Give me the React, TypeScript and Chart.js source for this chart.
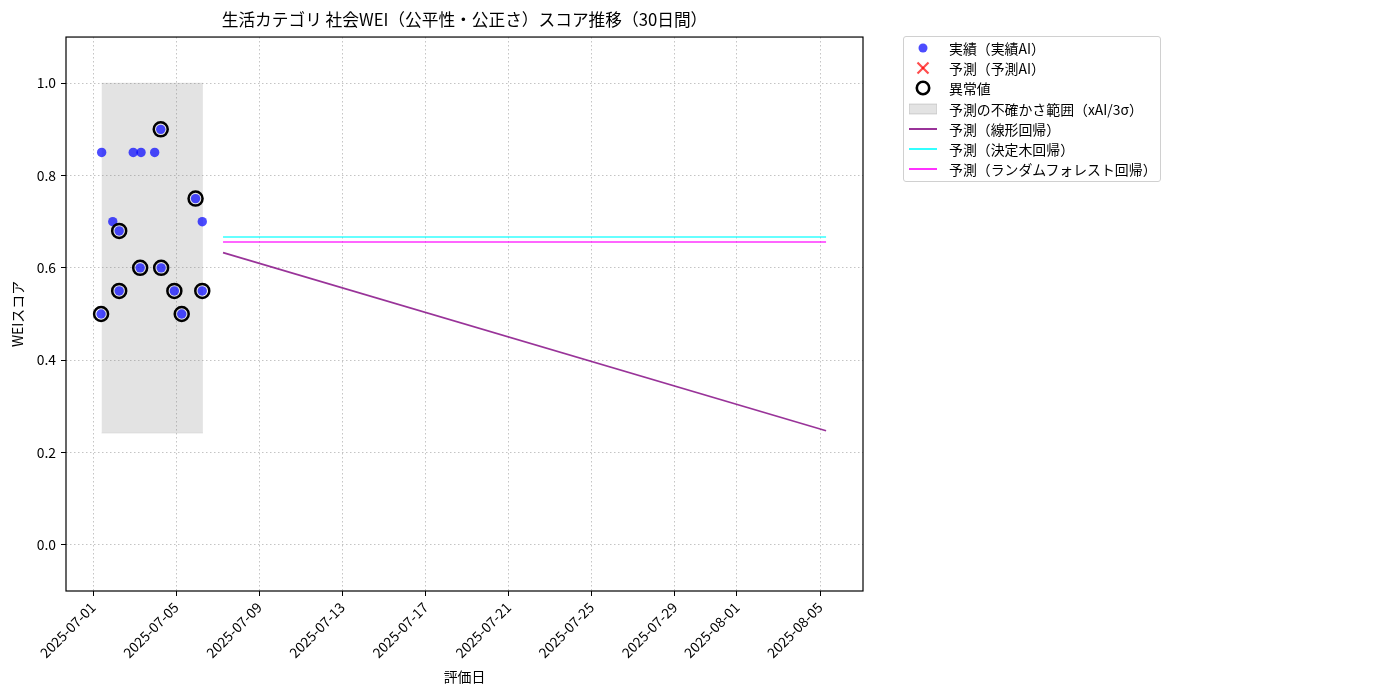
import React, { useEffect, useRef } from "react";
import { Chart, registerables, Plugin } from "chart.js";

Chart.register(...registerables);

const FONT = "'Noto Sans CJK JP', 'DejaVu Sans', sans-serif";

// 実績（実績AI）
const actualDates = [
  "2025-07-01T09:20", "2025-07-01T10:00", "2025-07-01T22:50", "2025-07-02T06:15",
  "2025-07-02T06:15", "2025-07-02T22:30", "2025-07-03T06:30", "2025-07-03T07:30",
  "2025-07-03T23:15", "2025-07-04T06:15", "2025-07-04T06:45", "2025-07-04T22:00",
  "2025-07-05T06:30", "2025-07-05T22:30", "2025-07-06T06:15", "2025-07-06T06:15",
];
const actualScores = [0.5, 0.85, 0.7, 0.68, 0.55, 0.85, 0.6, 0.85, 0.85, 0.9, 0.6, 0.55, 0.5, 0.75, 0.7, 0.55];
// 異常値 (index into actual)
const outlierIdx = [0, 3, 4, 6, 9, 10, 11, 12, 13, 15];

// 予測の不確かさ範囲
const bandDates = ["2025-07-01T09:50", "2025-07-06T07:00"];
const bandUpper = [1.0, 1.0];
const bandLower = [0.242, 0.242];

// 予測（30日間）
const forecastDates = ["2025-07-07T06:15", "2025-08-05T07:00"];
const linearPred = [0.633, 0.247];
const treePred = [0.667, 0.667];
const forestPred = [0.656, 0.656];

const tickDates = [
  "2025-07-01", "2025-07-05", "2025-07-09", "2025-07-13", "2025-07-17",
  "2025-07-21", "2025-07-25", "2025-07-29", "2025-08-01", "2025-08-05",
];
const yTicks = [0, 0.2, 0.4, 0.6, 0.8, 1.0];

const BASE = Date.parse("2025-07-01T00:00:00Z");
const toDay = (s: string) => (Date.parse((s.length === 10 ? s + "T00:00" : s) + ":00Z") - BASE) / 86400000;
const dayLabel = (d: number) => new Date(BASE + Math.round(d) * 86400000).toISOString().slice(0, 10);

const pts = (dates: string[], vals: number[]) => dates.map((d, i) => ({ x: toDay(d), y: vals[i] }));

const framePlugin: Plugin = {
  id: "frame",
  afterDatasetsDraw(chart) {
    const { ctx, chartArea } = chart;
    ctx.save();
    ctx.strokeStyle = "#000";
    ctx.lineWidth = 1.2;
    ctx.strokeRect(chartArea.left, chartArea.top, chartArea.right - chartArea.left, chartArea.bottom - chartArea.top);
    ctx.restore();
  },
};

const legendItems: { label: string; kind: string; color: string }[] = [
  { label: "実績（実績AI）", kind: "dot", color: "rgba(0,0,255,0.7)" },
  { label: "予測（予測AI）", kind: "x", color: "rgba(255,0,0,0.7)" },
  { label: "異常値", kind: "ring", color: "#000" },
  { label: "予測の不確かさ範囲（xAI/3σ）", kind: "rect", color: "rgba(128,128,128,0.22)" },
  { label: "予測（線形回帰）", kind: "line", color: "rgba(128,0,128,0.8)" },
  { label: "予測（決定木回帰）", kind: "line", color: "rgba(0,255,255,0.8)" },
  { label: "予測（ランダムフォレスト回帰）", kind: "line", color: "rgba(255,0,255,0.8)" },
];

const Marker = ({ kind, color }: { kind: string; color: string }) => (
  <svg width={28} height={16} style={{ display: "block" }}>
    {kind === "dot" && <circle cx={14} cy={8} r={4.5} fill={color} />}
    {kind === "x" && (
      <g stroke={color} strokeWidth={2.2}>
        <line x1={8.5} y1={2.5} x2={19.5} y2={13.5} />
        <line x1={19.5} y1={2.5} x2={8.5} y2={13.5} />
      </g>
    )}
    {kind === "ring" && <circle cx={14} cy={8} r={6.2} fill="none" stroke={color} strokeWidth={2.6} />}
    {kind === "rect" && <rect x={0} y={3} width={28} height={10} fill={color} stroke="rgba(128,128,128,0.3)" />}
    {kind === "line" && <line x1={0} y1={8} x2={28} y2={8} stroke={color} strokeWidth={2} />}
  </svg>
);

const gridOpts = {
  color: "#c4c4c4",
  tickBorderDash: [],
  tickColor: "#000",
  tickLength: 5,
};

const App = () => {
  const canvasRef = useRef<HTMLCanvasElement>(null);

  useEffect(() => {
    if (!canvasRef.current) return;
    const actual = pts(actualDates, actualScores);
    const outliers = outlierIdx.map((i) => actual[i]);
    const chart = new Chart(canvasRef.current, {
      type: "scatter",
      data: {
        datasets: [
          {
            label: "band-upper",
            type: "line",
            data: pts(bandDates, bandUpper),
            borderColor: "rgba(128,128,128,0.15)",
            borderWidth: 1,
            pointRadius: 0,
            fill: false,
            order: 10,
          },
          {
            label: "予測の不確かさ範囲（xAI/3σ）",
            type: "line",
            data: pts(bandDates, bandLower),
            borderColor: "rgba(128,128,128,0.15)",
            borderWidth: 1,
            backgroundColor: "rgba(128,128,128,0.22)",
            pointRadius: 0,
            fill: "-1",
            order: 9,
          },
          {
            label: "予測（線形回帰）",
            type: "line",
            data: pts(forecastDates, linearPred),
            borderColor: "rgba(128,0,128,0.8)",
            borderWidth: 1.6,
            pointRadius: 0,
            fill: false,
            order: 5,
          },
          {
            label: "予測（決定木回帰）",
            type: "line",
            data: pts(forecastDates, treePred),
            borderColor: "rgba(0,255,255,0.8)",
            borderWidth: 1.6,
            pointRadius: 0,
            fill: false,
            order: 4,
          },
          {
            label: "予測（ランダムフォレスト回帰）",
            type: "line",
            data: pts(forecastDates, forestPred),
            borderColor: "rgba(255,0,255,0.8)",
            borderWidth: 1.6,
            pointRadius: 0,
            fill: false,
            order: 3,
          },
          {
            label: "実績（実績AI）",
            data: actual,
            backgroundColor: "rgba(0,0,255,0.7)",
            borderWidth: 0,
            pointRadius: 4.7,
            order: 2,
          },
          {
            label: "予測（予測AI）",
            data: [],
            pointStyle: "crossRot",
            borderColor: "rgba(255,0,0,0.7)",
            pointRadius: 6,
            order: 1,
          },
          {
            label: "異常値",
            data: outliers,
            backgroundColor: "rgba(0,0,0,0)",
            borderColor: "#000",
            borderWidth: 2.5,
            pointRadius: 7,
            order: 0,
          },
        ],
      },
      options: {
        animation: false,
        responsive: false,
        layout: { padding: { right: 537, left: 0, top: 0, bottom: 0 } },
        plugins: {
          legend: { display: false },
          tooltip: { enabled: false },
          title: {
            display: true,
            text: "生活カテゴリ 社会WEI（公平性・公正さ）スコア推移（30日間）",
            fullSize: false,
            color: "#000",
            font: { family: FONT, size: 16.7, weight: "normal" },
            padding: { top: 10, bottom: 7 },
          },
        },
        scales: {
          x: {
            type: "linear",
            min: -1.3,
            max: 37.07,
            afterBuildTicks: (scale) => {
              scale.ticks = tickDates.map((d) => ({ value: toDay(d) }));
            },
            afterFit: (scale) => {
              scale.height = 109;
            },
            ticks: {
              autoSkip: false,
              maxRotation: 45,
              minRotation: 45,
              padding: 3,
              color: "#000",
              font: { family: FONT, size: 13.9 },
              callback: (v) => dayLabel(Number(v)),
            },
            grid: gridOpts,
            border: { display: false, dash: [1.5, 2.5] },
            title: {
              display: true,
              text: "評価日",
              color: "#000",
              font: { family: FONT, size: 13.9 },
              padding: { top: 2, bottom: 15 },
            },
          },
          y: {
            min: -0.1,
            max: 1.1,
            afterBuildTicks: (scale) => {
              scale.ticks = yTicks.map((v) => ({ value: v }));
            },
            afterFit: (scale) => {
              scale.width = 66;
            },
            ticks: {
              padding: 5,
              color: "#000",
              font: { family: FONT, size: 13.9 },
              callback: (v) => Number(v).toFixed(1),
            },
            grid: gridOpts,
            border: { display: false, dash: [1.5, 2.5] },
            title: {
              display: true,
              text: "WEIスコア",
              color: "#000",
              font: { family: FONT, size: 13.9 },
              padding: { top: 9, bottom: 0 },
            },
          },
        },
      },
      plugins: [framePlugin],
    });
    return () => {
      chart.destroy();
    };
  }, []);

  return (
    <div style={{ position: "fixed", left: 0, top: 0, width: 1400, height: 700, background: "#fff" }}>
      <canvas ref={canvasRef} width={1400} height={700} style={{ width: 1400, height: 700 }} />
      <div
        style={{
          position: "absolute",
          left: 903,
          top: 36,
          width: 258,
          height: 146,
          border: "1px solid #d0d0d0",
          borderRadius: 3,
          fontFamily: FONT,
          fontSize: 13.9,
          color: "#000",
          paddingTop: 1,
          boxSizing: "border-box",
        }}
      >
        {legendItems.map((it) => (
          <div key={it.label} style={{ display: "flex", alignItems: "center", height: 20.2 }}>
            <div style={{ marginLeft: 5, marginRight: 12 }}>
              <Marker kind={it.kind} color={it.color} />
            </div>
            <span style={{ whiteSpace: "nowrap", lineHeight: "20px" }}>{it.label}</span>
          </div>
        ))}
      </div>
    </div>
  );
};

export default App;
